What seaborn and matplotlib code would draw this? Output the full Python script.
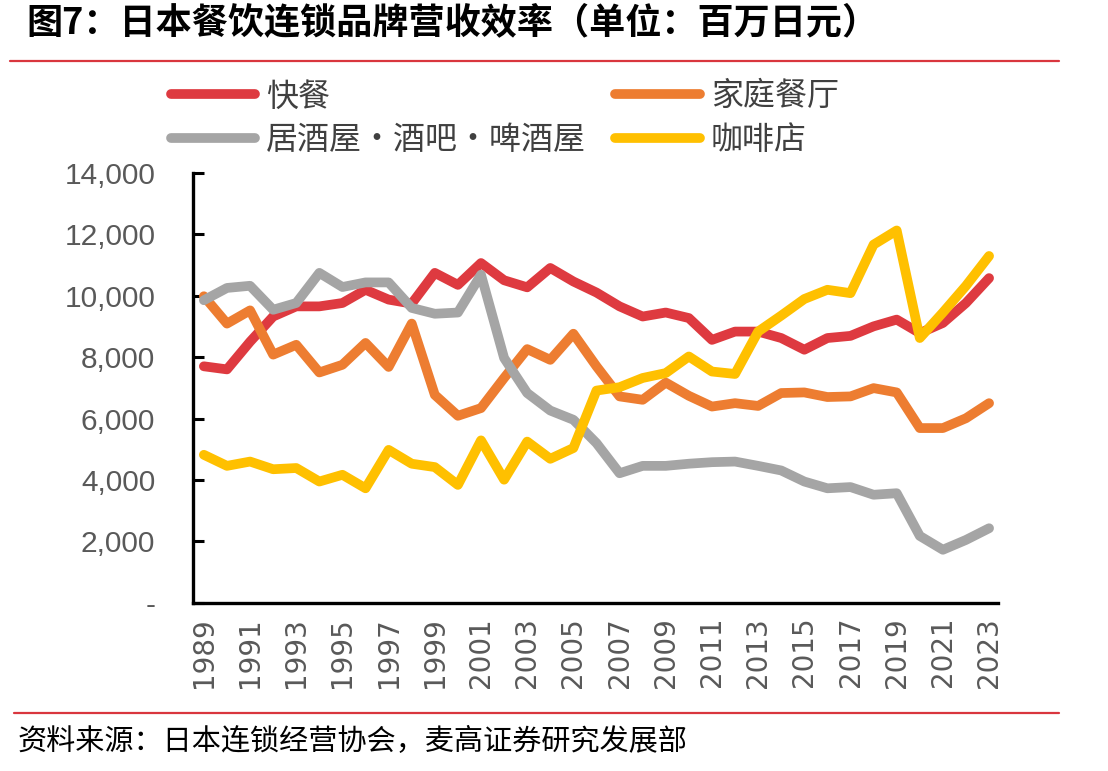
import numpy as np
import pandas as pd
import matplotlib
matplotlib.use("Agg")
import matplotlib.pyplot as plt
from matplotlib.lines import Line2D
import matplotlib.ticker as mticker
import seaborn as sns

years = list(range(1989, 2024))

fast_food = [7700, 7600, 8500, 9320, 9650, 9650, 9760, 10190, 9870, 9740,
             10740, 10350, 11060, 10500, 10270, 10900, 10460, 10100, 9650, 9320,
             9450, 9270, 8560, 8830, 8830, 8620, 8240, 8620, 8690, 9000,
             9220, 8780, 9110, 9760, 10570]
family_rest = [9980, 9090, 9520, 8080, 8400, 7500, 7750, 8460, 7680, 9090,
               6770, 6090, 6340, 7320, 8260, 7910, 8760, 7700, 6720, 6610,
               7170, 6740, 6390, 6500, 6410, 6830, 6850, 6700, 6720, 6990,
               6850, 5690, 5690, 6010, 6500]
izakaya = [9850, 10250, 10320, 9540, 9760, 10740, 10280, 10430, 10430, 9600,
           9410, 9450, 10680, 7970, 6830, 6260, 5960, 5200, 4220, 4460,
           4460, 4530, 4580, 4600, 4460, 4310, 3950, 3730, 3770, 3520,
           3570, 2180, 1730, 2050, 2430]
cafe = [4820, 4460, 4600, 4350, 4390, 3950, 4170, 3730, 4980, 4530,
        4420, 3840, 5290, 4010, 5250, 4690, 5040, 6910, 7020, 7320,
        7480, 8020, 7530, 7450, 8830, 9350, 9890, 10190, 10080, 11660,
        12120, 8620, 9450, 10320, 11290]

series_names = ["快餐", "家庭餐厅", "居酒屋·酒吧·啤酒屋", "咖啡店"]
colors = ["#DE3A40", "#ED7D31", "#A5A5A5", "#FFC000"]

title = "图7：日本餐饮连锁品牌营收效率（单位：百万日元）"
source = "资料来源：日本连锁经营协会，麦高证券研究发展部"

df = pd.DataFrame({
    "year": years * 4,
    "value": fast_food + family_rest + izakaya + cafe,
    "series": sum([[n] * len(years) for n in series_names], []),
})

sns.set_theme(style="white")
plt.rcParams["font.family"] = ["Noto Sans CJK SC", "DejaVu Sans"]

fig = plt.figure(figsize=(11.08, 7.71), dpi=100)
ax = fig.add_axes([0.174, 0.218, 0.727, 0.558])

sns.lineplot(data=df, x="year", y="value", hue="series", hue_order=series_names,
             palette=colors, linewidth=7, ax=ax, legend=False,
             solid_joinstyle="round", solid_capstyle="round")

ax.set_xlim(1988.52, 2023.4)
ax.set_ylim(0, 14000)
ax.set_xlabel("")
ax.set_ylabel("")

ax.set_yticks(np.arange(0, 14001, 2000))
ax.yaxis.set_major_formatter(mticker.FuncFormatter(lambda v, p: "-" if v == 0 else f"{int(v):,}"))
ax.set_xticks(years[::2])
ax.set_xticklabels([str(y) for y in years[::2]], rotation=90)

for s in ["top", "right"]:
    ax.spines[s].set_visible(False)
for s in ["left", "bottom"]:
    ax.spines[s].set_color("black")
    ax.spines[s].set_linewidth(2.4)

ax.tick_params(axis="y", direction="in", length=8, width=2.2, color="black",
               pad=27, labelsize=21.5, labelcolor="#595959", left=True)
ax.tick_params(axis="x", length=0, pad=10, labelsize=20, labelcolor="#595959")
for lab in ax.get_yticklabels():
    lab.set_family(["Liberation Sans", "DejaVu Sans"])
for lab in ax.get_xticklabels():
    lab.set_family(["DejaVu Sans"])

# legend: row 1 = 快餐, 家庭餐厅 ; row 2 = 居酒屋..., 咖啡店 (columns filled first)
order = [0, 2, 1, 3]
handles = [Line2D([0], [0], color=colors[i], lw=7, solid_capstyle="round") for i in order]
labels = [series_names[i] for i in order]
leg = fig.legend(handles, labels, ncol=2, loc="upper left",
                 bbox_to_anchor=(0.128, 0.933), frameon=False,
                 prop={"family": ["Noto Sans CJK SC", "DejaVu Sans"], "size": 23},
                 handlelength=2.65, handletextpad=0.35, columnspacing=0.9,
                 labelspacing=0.36)
for t in leg.get_texts():
    t.set_color("#404040")

fig.text(0.024, 0.971, title, fontsize=26, fontweight="bold", color="black",
         va="center", ha="left")
fig.add_artist(Line2D([0.009, 0.956], [0.921, 0.921], color="#D9363E", lw=1.6,
                      transform=fig.transFigure))
fig.add_artist(Line2D([0.013, 0.956], [0.075, 0.075], color="#D9363E", lw=1.6,
                      transform=fig.transFigure))
fig.text(0.016, 0.038, source, fontsize=21, color="black", va="center", ha="left")

fig.savefig("out.png", dpi=100)
